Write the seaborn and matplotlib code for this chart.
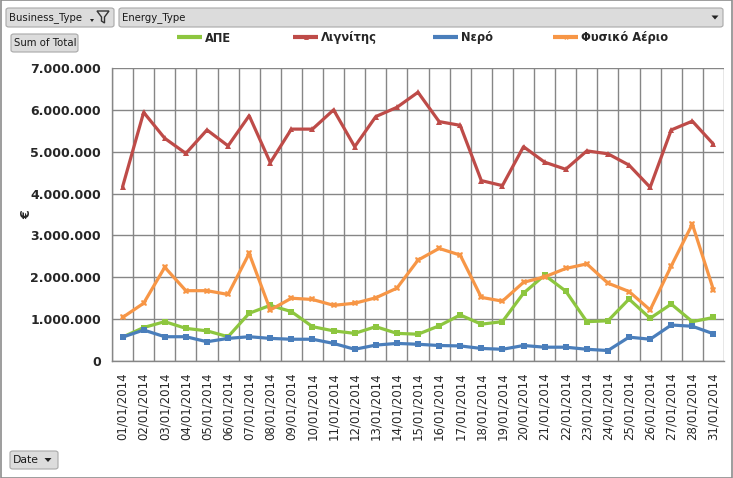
import numpy as np
import pandas as pd
import matplotlib
matplotlib.use("Agg")
import matplotlib.pyplot as plt
import seaborn as sns
from matplotlib.patches import FancyBboxPatch, Rectangle, Polygon
from matplotlib.ticker import FuncFormatter, FixedLocator
from matplotlib.lines import Line2D

dates = [f"{d:02d}/01/2014" for d in list(range(1, 29)) + [31]]

ape = [0.57, 0.80, 0.94, 0.78, 0.72, 0.58, 1.14, 1.33, 1.18, 0.82, 0.72, 0.66, 0.82,
       0.66, 0.64, 0.84, 1.10, 0.88, 0.94, 1.62, 2.05, 1.67, 0.94, 0.96, 1.48, 1.02,
       1.36, 0.94, 1.04]
lignite = [4.16, 5.94, 5.32, 4.96, 5.52, 5.14, 5.86, 4.74, 5.54, 5.54, 6.00, 5.12, 5.84,
           6.06, 6.42, 5.72, 5.63, 4.31, 4.19, 5.12, 4.75, 4.58, 5.02, 4.95, 4.68, 4.15,
           5.52, 5.73, 5.18]
water = [0.57, 0.74, 0.58, 0.58, 0.46, 0.54, 0.58, 0.54, 0.52, 0.52, 0.42, 0.28, 0.38,
         0.42, 0.40, 0.37, 0.36, 0.30, 0.28, 0.37, 0.33, 0.33, 0.28, 0.25, 0.57, 0.52,
         0.86, 0.83, 0.65]
gas = [1.04, 1.38, 2.24, 1.68, 1.68, 1.59, 2.57, 1.22, 1.50, 1.47, 1.33, 1.38, 1.51,
       1.74, 2.41, 2.69, 2.53, 1.52, 1.43, 1.88, 2.01, 2.21, 2.32, 1.86, 1.66, 1.22,
       2.27, 3.27, 1.70]

series_names = ["ΑΠΕ", "Λιγνίτης", "Νερό", "Φυσικό Αέριο"]
series_vals = [ape, lignite, water, gas]
colors = ["#8DC63F", "#BE4B48", "#4A7EBB", "#F79646"]
markers = ["s", "^", "s", "X"]

rows = []
for name, vals in zip(series_names, series_vals):
    for i, (d, v) in enumerate(zip(dates, vals)):
        rows.append({"Date": d, "idx": i, "Energy_Type": name, "Total": v * 1e6})
df = pd.DataFrame(rows)

sns.set_style("white")
plt.rcParams["font.family"] = ["DejaVu Sans"]

W, H = 733, 478
fig = plt.figure(figsize=(W / 100, H / 100), dpi=100)
fig.patch.set_facecolor("white")

def fx(x):
    return x / W

def fy(y):
    return 1 - y / H

ax = fig.add_axes([fx(112), fy(361), fx(724) - fx(112), fy(68) - fy(361)])

sns.lineplot(data=df, x="idx", y="Total", hue="Energy_Type", style="Energy_Type",
             hue_order=series_names, style_order=series_names,
             palette=dict(zip(series_names, colors)),
             markers=dict(zip(series_names, markers)), dashes=False,
             linewidth=2.3, markersize=4.5, markeredgewidth=0, ax=ax, legend=False)

n = len(dates)
ax.set_xlim(-0.5, n - 0.5)
ax.set_ylim(0, 7e6)
ax.xaxis.set_major_locator(FixedLocator(list(range(n))))
ax.set_xticklabels(dates, rotation=90, fontsize=8.5)
ax.xaxis.set_minor_locator(FixedLocator([i + 0.5 for i in range(-1, n)]))
ax.tick_params(axis="x", which="major", length=0, pad=8)
ax.tick_params(axis="x", which="minor", length=4, width=1, color="#868686", direction="out")
ax.set_yticks(np.arange(0, 7e6 + 1, 1e6))
ax.yaxis.set_major_formatter(FuncFormatter(lambda v, p: f"{v:,.0f}".replace(",", ".")))
ax.tick_params(axis="y", length=4, width=1, color="#868686", direction="out", pad=4)
for t in ax.get_yticklabels():
    t.set_fontweight("bold")
    t.set_fontsize(9)
ax.grid(False)
ax.grid(True, axis="y", which="major", color="#868686", linewidth=1)
ax.grid(True, axis="x", which="minor", color="#868686", linewidth=1)
ax.set_axisbelow(True)
for s in ["top", "right"]:
    ax.spines[s].set_visible(False)
for s in ["left", "bottom"]:
    ax.spines[s].set_color("#868686")
    ax.spines[s].set_linewidth(1)
ax.set_xlabel("")
ax.set_ylabel("")
fig.text(fx(27), fy(215), "€", fontsize=9, fontweight="bold", rotation=90,
         ha="center", va="center")

# legend: one entry per reference position
legend_x = [177, 293, 433, 553]
for c, m, name, lx in zip(colors, markers, series_names, legend_x):
    h = Line2D([0], [0], color=c, lw=3, marker=m, markersize=3.5, markeredgewidth=0,
               solid_capstyle="butt")
    fig.legend([h], [name], loc="center left", bbox_to_anchor=(fx(lx), fy(38)),
               frameon=False, prop={"weight": "bold", "size": 8.3},
               handlelength=2.2, handletextpad=0.25,
               borderpad=0, borderaxespad=0)

# buttons
def button(x0, y0, x1, y1, text, fs=7.3, arrow=None, tx=None):
    p = FancyBboxPatch((fx(x0), fy(y1)), fx(x1) - fx(x0), fy(y0) - fy(y1),
                       boxstyle="round,pad=0,rounding_size=0.004",
                       transform=fig.transFigure, facecolor="#DCDCDC",
                       edgecolor="#A8A8A8", linewidth=0.8)
    fig.add_artist(p)
    fig.text(fx(tx if tx else x0 + 3), fy((y0 + y1) / 2), text, fontsize=fs,
             va="center", ha="left", color="#1A1A1A")
    if arrow is not None:
        yc = (y0 + y1) / 2
        tri = Polygon([(fx(arrow - 3.5), fy(yc - 2)), (fx(arrow + 3.5), fy(yc - 2)),
                       (fx(arrow), fy(yc + 2))], closed=True, transform=fig.transFigure,
                      facecolor="#222222", edgecolor="none")
        fig.add_artist(tri)

button(6, 8, 114, 27, "Business_Type", fs=7.3)
fun = Polygon([(fx(97), fy(11)), (fx(109), fy(11)), (fx(104.5), fy(17)), (fx(104.5), fy(23)),
               (fx(101.5), fy(21)), (fx(101.5), fy(17))], closed=True,
              transform=fig.transFigure, facecolor="none", edgecolor="#333333", linewidth=1)
fig.add_artist(fun)
small = Polygon([(fx(90), fy(19)), (fx(94), fy(19)), (fx(92), fy(22))], closed=True,
                transform=fig.transFigure, facecolor="#222222", edgecolor="none")
fig.add_artist(small)
button(119, 8, 723, 27, "Energy_Type", fs=7.3, arrow=715)
button(11, 34, 78, 52, "Sum of Total", fs=7.3, tx=14)
button(10, 451, 58, 469, "Date", fs=7.8, arrow=48, tx=13)

# outer border
fig.add_artist(Rectangle((0.0007, 0.001), 0.998, 0.998, transform=fig.transFigure,
                         facecolor="none", edgecolor="#8C8C8C", linewidth=1.2))

fig.savefig("out.png", dpi=100, facecolor="white")
